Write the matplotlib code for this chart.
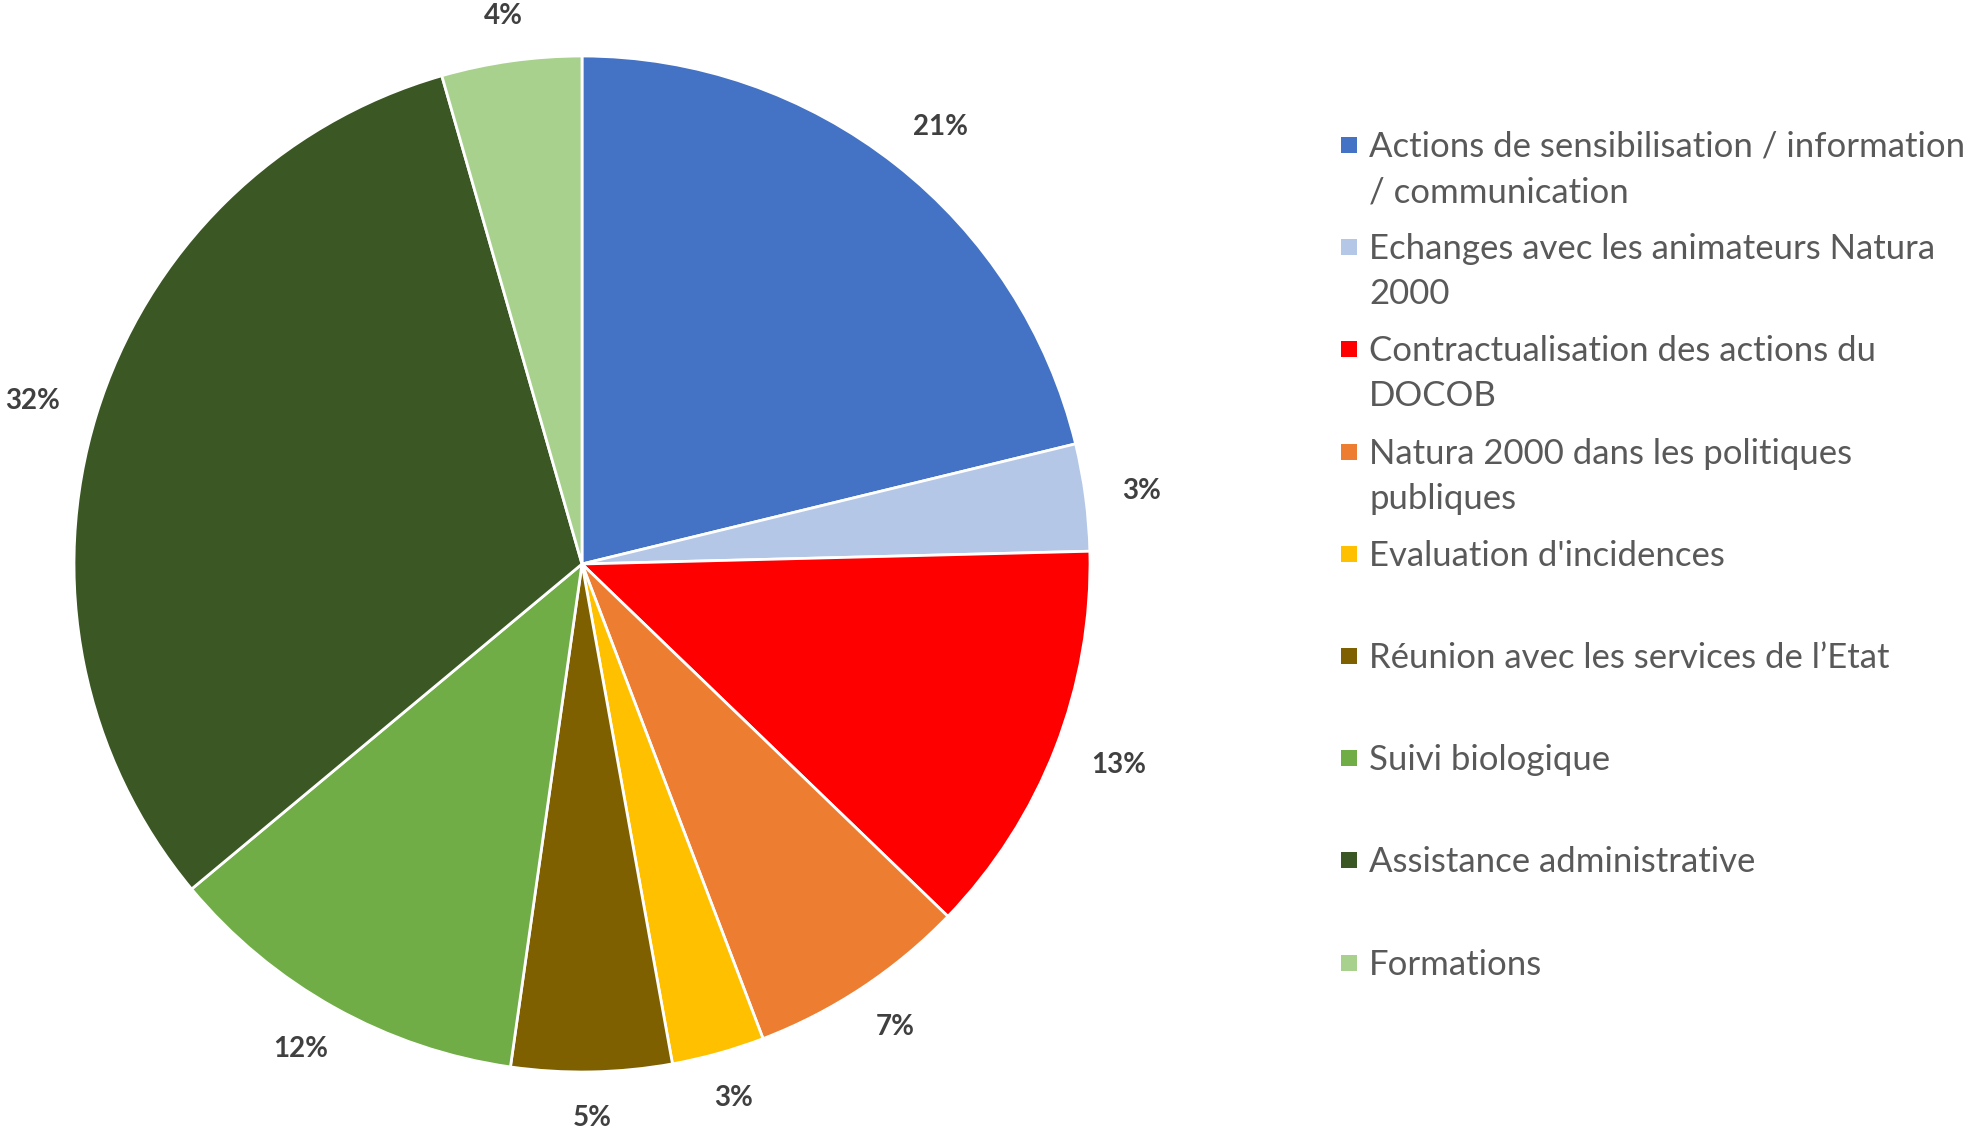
import numpy as np
import matplotlib
matplotlib.use("Agg")
import matplotlib.pyplot as plt
from matplotlib.patches import Rectangle

# parts de temps par type de mission (%)
categories = [
    "Actions de sensibilisation / information\n/ communication",
    "Echanges avec les animateurs Natura\n2000",
    "Contractualisation des actions du\nDOCOB",
    "Natura 2000 dans les politiques\npubliques",
    "Evaluation d'incidences",
    "Réunion avec les services de l\u2019Etat",
    "Suivi biologique",
    "Assistance administrative",
    "Formations",
]
values = [21.2, 3.4, 12.6, 7.0, 2.95, 5.1, 11.7, 31.6, 4.45]
colors = ["#4472C4", "#B4C7E7", "#FF0000", "#ED7D31", "#FFC000",
          "#7F6000", "#70AD47", "#3A5724", "#A9D18E"]

W, H = 1964, 1134
fig = plt.figure(figsize=(W / 100, H / 100), dpi=100)
plt.rcParams['font.family'] = ['Lato', 'DejaVu Sans']

# axe du camembert : centre (582, 564) px, rayon 508 px
cx, cy, R = 582, 564, 508
ax = fig.add_axes([(cx - R) / W, (H - cy - R) / H, 2 * R / W, 2 * R / H])
wedges, _, autotexts = ax.pie(values, colors=colors, startangle=90, counterclock=False,
                              autopct='%.0f%%', pctdistance=1.0,
                              wedgeprops=dict(edgecolor='white', linewidth=2))
ax.set_xlim(-1, 1)
ax.set_ylim(-1, 1)
ax.axis('off')

# étiquettes à l'extérieur, comme Excel (coin de la boite le plus proche du camembert)
gap, hh = 1.075, 0.015
for w, t in zip(wedges, autotexts):
    ang = np.deg2rad((w.theta1 + w.theta2) / 2)
    ux, uy = np.cos(ang), np.sin(ang)
    hw = 0.018 * len(t.get_text())
    m = max(abs(ux), abs(uy))
    t.set_position((gap * ux + hw * ux / m, gap * uy + hh * uy / m))
    t.set_ha('center')
    t.set_va('center')
    t.set_fontsize(20)
    t.set_fontweight('bold')
    t.set_color('#404040')

# légende à droite
x_box, x_txt = 1341, 1369
y0, step, line = 147, 102.2, 45
for i, (lab, col) in enumerate(zip(categories, colors)):
    y = y0 + i * step
    fig.patches.append(Rectangle((x_box / W, 1 - (y + 6) / H), 16 / W, 16 / H,
                                 transform=fig.transFigure, facecolor=col,
                                 edgecolor='none'))
    for j, part in enumerate(lab.split("\n")):
        fig.text(x_txt / W, 1 - (y + j * line) / H, part, fontsize=25,
                 color='#595959', ha='left', va='center')

fig.savefig("out.png", dpi=100)
